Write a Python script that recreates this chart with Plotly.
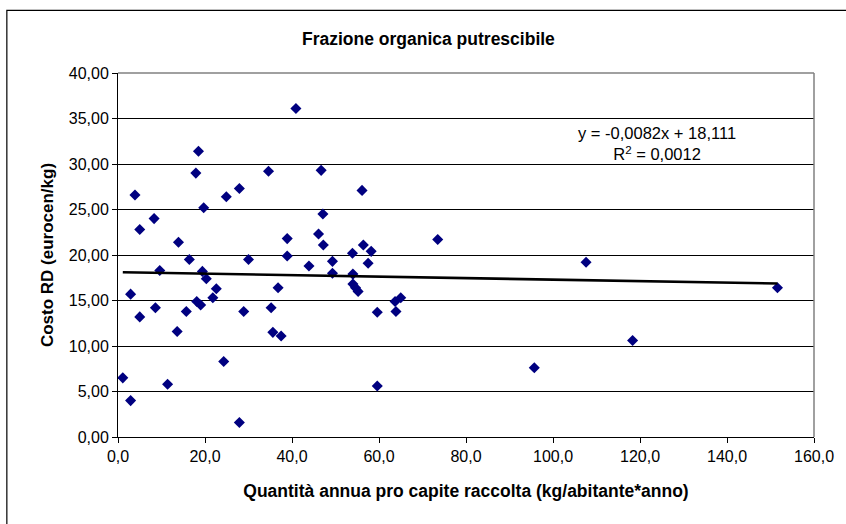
import plotly.graph_objects as go

# Annual per-capita collection (kg/inhabitant*year) and separate-collection cost (eurocent/kg)
quantita = [1.1, 2.9, 2.9, 3.9, 5.0, 5.0, 8.3, 8.6, 9.6, 11.4,
            13.6, 13.9, 15.7, 16.4, 17.9, 18.1, 18.5, 19.0, 19.4, 19.7,
            20.3, 21.8, 22.6, 24.3, 24.9, 27.9, 27.9, 28.9, 30.0, 34.6,
            35.2, 35.6, 36.8, 37.5, 38.9, 38.9, 40.9, 43.9, 46.1, 46.7,
            47.1, 47.2, 49.3, 49.3, 53.9, 54.0, 54.0, 54.6, 55.2, 56.1,
            56.4, 57.5, 58.2, 59.6, 59.6, 63.7, 63.9, 65.0, 73.5, 95.7,
            107.6, 118.3, 151.6]
costo = [6.5, 15.7, 4.0, 26.6, 22.8, 13.2, 24.0, 14.2, 18.3, 5.8,
         11.6, 21.4, 13.8, 19.5, 29.0, 14.9, 31.4, 14.5, 18.2, 25.2,
         17.4, 15.3, 16.3, 8.3, 26.4, 27.3, 1.6, 13.8, 19.5, 29.2,
         14.2, 11.5, 16.4, 11.1, 21.8, 19.9, 36.1, 18.8, 22.3, 29.3,
         24.5, 21.1, 19.3, 18.0, 20.2, 17.9, 16.8, 16.4, 16.0, 27.1,
         21.1, 19.1, 20.4, 13.7, 5.6, 14.9, 13.8, 15.3, 21.7, 7.6,
         19.2, 10.6, 16.4]

# Linear trend line coefficients
pendenza = -0.0082
intercetta = 18.111
r_quadro = 0.0012

x_ticks = [0, 20, 40, 60, 80, 100, 120, 140, 160]
y_ticks = [0, 5, 10, 15, 20, 25, 30, 35, 40]

FONT = "Liberation Sans, Arial, sans-serif"

x_trend = [min(quantita), max(quantita)]
y_trend = [pendenza * v + intercetta for v in x_trend]

fig = go.Figure()
fig.add_trace(go.Scatter(
    x=quantita, y=costo, mode="markers",
    marker=dict(symbol="diamond", size=8.5, color="#000080", line=dict(width=0)),
    showlegend=False, hoverinfo="x+y",
))
fig.add_trace(go.Scatter(
    x=x_trend, y=y_trend, mode="lines",
    line=dict(color="black", width=2.6),
    showlegend=False, hoverinfo="skip",
))

fmt = lambda v, d: f"{v:.{d}f}".replace(".", ",")
eq_text = (f"y = {fmt(pendenza, 4)}x + {fmt(intercetta, 3)}<br>"
           f"R<sup>2</sup> = {fmt(r_quadro, 4)}")

fig.add_annotation(
    x=0.775, y=0.805, xref="paper", yref="paper",
    text=eq_text, showarrow=False, align="center",
    xanchor="center", yanchor="middle",
    font=dict(family=FONT, size=16.5, color="black"),
)

# Chart title, centred on the whole chart frame
fig.add_annotation(
    x=0.446, y=1.094, xref="paper", yref="paper",
    text="<b>Frazione organica putrescibile</b>", showarrow=False,
    xanchor="center", yanchor="middle",
    font=dict(family=FONT, size=17.5, color="black"),
)

shapes = [
    # chart frame
    dict(type="rect", xref="paper", yref="paper",
         x0=-0.1597, x1=1.05, y0=-0.26, y1=1.172,
         line=dict(color="black", width=1.2), layer="below"),
    # plot-area border (top and right)
    dict(type="line", xref="paper", yref="paper", x0=0, x1=1, y0=1, y1=1,
         line=dict(color="#808080", width=1.5)),
    dict(type="line", xref="paper", yref="paper", x0=1, x1=1, y0=0, y1=1,
         line=dict(color="#808080", width=1.5)),
]

fig.update_layout(
    width=846, height=524,
    margin=dict(l=118, r=26.5, t=72.7, b=86.7),
    paper_bgcolor="white", plot_bgcolor="white",
    separators=",.",
    font=dict(family=FONT, size=15, color="black"),
    shapes=shapes,
    xaxis=dict(
        range=[0, 160], tickvals=x_ticks, tickformat=".1f",
        showgrid=False, zeroline=False,
        showline=True, linecolor="black", linewidth=1,
        ticks="outside", ticklen=5, tickcolor="black",
        tickfont=dict(family=FONT, size=16),
        title=dict(text="<b>Quantità annua pro capite raccolta (kg/abitante*anno)</b>",
                   font=dict(family=FONT, size=17.5), standoff=20),
    ),
    yaxis=dict(
        range=[0, 40], tickvals=y_ticks, tickformat=".2f",
        showgrid=True, gridcolor="black", gridwidth=1, zeroline=False,
        showline=True, linecolor="black", linewidth=1,
        ticks="outside", ticklen=5, tickcolor="black",
        tickfont=dict(family=FONT, size=16),
        title=dict(text="<b>Costo RD (eurocen/kg)</b>",
                   font=dict(family=FONT, size=17), standoff=10),
    ),
)

fig.write_html("out.html")
